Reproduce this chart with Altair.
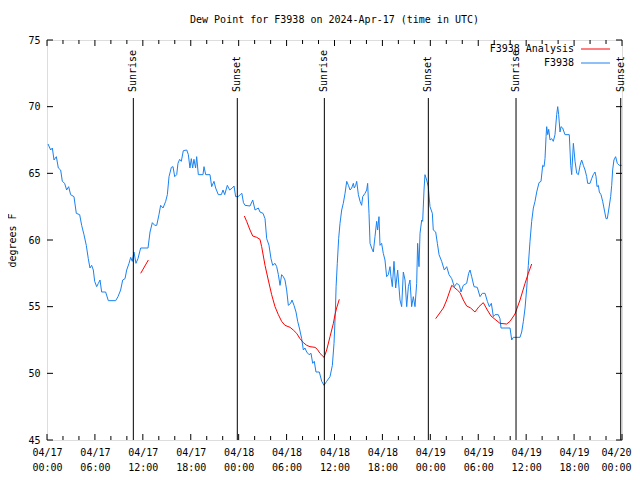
import altair as alt
import pandas as pd

# ---- data (hours since 2024-04-17 00:00 UTC, dew point in F) ----
obs_hours = [0.13, 0.46, 0.67, 0.88, 1.17, 1.42, 1.71, 1.92, 2.21, 2.46, 2.71, 2.96, 3.38, 3.67, 4.09, 4.34,
             4.63, 4.92, 5.17, 5.38, 5.59, 5.80, 5.97, 6.22, 6.43, 6.64, 6.84, 7.34, 7.68, 8.60, 8.89, 9.22,
             9.48, 9.77, 9.98, 10.27, 10.48, 10.68, 10.89, 11.14, 11.39, 11.73, 12.65, 12.90, 13.19, 13.49,
             13.74, 14.02, 14.23, 14.53, 14.86, 15.07, 15.28, 15.57, 15.78, 15.99, 16.24, 16.40, 16.61, 16.82,
             17.07, 17.50, 17.70, 17.90, 18.07, 18.24, 18.40, 18.61, 18.74, 18.95, 19.53, 19.66, 19.87, 20.41,
             20.62, 20.91, 21.12, 21.45, 21.83, 22.04, 22.25, 22.58, 22.87, 23.20, 23.42, 23.62, 23.92, 24.20,
             24.40, 24.60, 24.80, 25.42, 25.76, 26.05, 26.46, 26.67, 27.05, 27.30, 27.51, 27.80, 28.05, 28.26,
             28.55, 28.76, 28.97, 29.18, 29.38, 29.59, 29.80, 30.01, 30.22, 30.51, 30.68, 30.93, 31.18, 31.39,
             31.60, 31.89, 32.10, 32.30, 32.52, 32.81, 33.06, 33.27, 33.47, 33.68, 34.10, 34.40, 34.69, 35.02,
             35.44, 35.73, 35.94, 36.10, 36.20, 36.35, 36.52, 36.69, 36.90, 37.10, 37.32, 37.53, 37.74, 37.95,
             38.15, 38.36, 38.48, 38.65, 38.78, 38.99, 39.20, 39.40, 39.53, 39.82, 40.03, 40.15, 40.32, 40.45,
             40.65, 40.86, 41.07, 41.28, 41.40, 41.57, 41.70, 41.90, 42.11, 42.32, 42.53, 42.74, 42.95, 43.07,
             43.24, 43.45, 43.66, 43.91, 44.20, 44.41, 44.62, 44.83, 45.04, 45.25, 45.45, 45.66, 45.87, 46.08,
             46.29, 46.41, 46.58, 46.71, 46.92, 47.04, 47.21, 47.33, 47.54, 47.74, 47.96, 48.25, 48.37, 48.67,
             48.88, 49.09, 49.42, 49.75, 50.05, 50.34, 50.68, 51.00, 51.30, 51.63, 51.84, 52.13, 52.55, 52.80,
             52.97, 53.18, 53.47, 53.88, 54.22, 54.51, 54.85, 55.14, 55.39, 55.64, 55.89, 56.10, 56.51, 56.72,
             56.85, 57.98, 58.19, 58.39, 59.23, 59.44, 59.65, 59.86, 60.07, 60.27, 60.48, 60.69, 60.90, 61.11,
             61.32, 61.61, 61.86, 62.07, 62.24, 62.36, 62.49, 62.57, 62.70, 62.82, 62.99, 63.20, 63.40, 63.61,
             63.82, 63.95, 64.07, 64.24, 64.36, 64.57, 64.86, 65.40, 65.58, 65.70, 65.91, 66.12, 66.33, 66.54,
             66.75, 66.95, 67.16, 67.37, 67.58, 67.70, 68.00, 68.20, 68.40, 68.62, 68.75, 68.87, 69.04, 69.16,
             69.37, 69.58, 69.79, 70.00, 70.16, 70.37, 70.58, 70.71, 70.83, 70.99, 71.20, 71.41, 71.66, 71.96]
obs_values = [67.2, 66.75, 66.9, 66.0, 66.25, 65.4, 65.25, 64.4, 64.25, 63.75, 64.0, 63.4, 63.25, 62.0, 61.9, 61.1,
              60.4, 59.6, 58.6, 57.9, 58.1, 57.75, 56.9, 56.5, 56.75, 57.0, 56.1, 56.1, 55.45, 55.45, 55.75, 56.25,
              57.0, 57.1, 57.75, 58.25, 58.7, 58.4, 59.1, 58.25, 58.6, 59.4, 59.4, 60.6, 61.3, 61.1,
              61.1, 61.9, 62.6, 62.4, 62.9, 63.4, 64.75, 65.45, 65.5, 64.75, 64.9, 65.75, 66.05, 65.9,
              66.7, 66.75, 66.4, 65.4, 66.1, 65.4, 66.05, 65.4, 66.25, 64.9, 64.9, 65.5, 64.9, 64.9,
              64.0, 64.4, 63.9, 63.4, 63.4, 63.75, 63.4, 64.1, 63.75, 63.9, 64.05, 63.25, 63.25, 63.4,
              63.5, 62.8, 62.6, 62.55, 63.0, 62.25, 62.4, 62.1, 62.0, 61.6, 60.1, 59.6, 58.6, 58.1,
              58.25, 58.0, 57.4, 56.6, 57.4, 57.25, 57.0, 56.25, 55.1, 55.25, 55.5, 55.1, 54.6, 53.9,
              53.4, 52.6, 51.75, 51.9, 51.6, 51.4, 51.5, 50.75, 50.9, 50.1, 50.1, 49.4, 49.1, 49.4,
              49.75, 50.6, 52.25, 54.5, 56.5, 58.25, 60.1, 61.25, 62.25, 62.75, 63.5, 64.4, 64.1, 63.75,
              63.9, 64.25, 63.9, 64.1, 64.4, 63.4, 62.9, 62.6, 63.25, 63.5, 63.75, 64.25, 62.0, 59.75,
              59.4, 59.1, 60.25, 61.4, 60.75, 61.75, 59.6, 59.75, 59.0, 58.5, 57.25, 57.4, 58.0, 57.25,
              56.5, 58.4, 56.4, 57.75, 55.5, 55.0, 57.6, 57.0, 55.0, 56.5, 57.0, 55.0, 55.75, 55.0,
              56.75, 59.75, 58.0, 60.5, 61.5, 61.4, 63.75, 64.9, 64.5, 64.0, 62.5, 62.0, 60.75, 60.6,
              59.75, 58.9, 58.4, 57.75, 58.0, 57.4, 57.1, 56.5, 56.75, 56.6, 56.1, 56.6, 56.75, 57.5,
              57.75, 57.25, 56.5, 56.45, 55.75, 56.0, 56.0, 55.4, 55.0, 55.25, 54.25, 54.4, 54.4, 54.1,
              53.4, 53.4, 52.5, 52.7, 52.7, 53.1, 53.9, 54.9, 56.4, 58.1, 59.9, 61.4, 62.4, 62.9,
              63.6, 64.3, 64.4, 65.6, 65.5, 66.1, 67.75, 68.5, 67.9, 68.3, 67.5, 67.6, 67.4, 67.9,
              69.4, 70.0, 69.4, 68.1, 68.5, 68.4, 67.9, 67.9, 65.6, 64.9, 67.25, 65.9, 65.0, 64.9,
              65.6, 66.0, 65.6, 65.25, 64.75, 64.25, 64.25, 64.6, 64.9, 65.1, 64.75, 64.0, 64.1, 63.6,
              63.4, 62.9, 62.25, 61.6, 61.6, 62.4, 63.25, 64.1, 65.25, 66.0, 66.25, 65.75, 65.6, 65.6]

ana_seg = [1, 1] + [2] * 31 + [3] * 23
ana_hours = [11.73, 12.69,
             24.71, 25.0, 25.42, 25.76, 26.26, 26.67, 26.88, 27.3, 27.71, 28.13, 28.55, 28.97, 29.38, 29.8,
             30.43, 30.84, 31.26, 31.68, 32.1, 32.52, 32.93, 33.56, 33.85, 34.18, 34.69, 35.02, 35.44, 35.86,
             36.06, 36.27, 36.6,
             48.67, 49.63, 50.05, 50.68, 51.38, 51.72, 52.13, 52.55, 53.05, 53.59, 54.09, 54.63, 55.14, 55.6,
             56.1, 56.72, 57.56, 57.98, 58.6, 59.23, 59.86, 60.27, 60.69]
ana_values = [57.5, 58.5,
              61.8, 61.4, 60.75, 60.3, 60.2, 60.05, 59.5, 58.1, 57.0, 55.9, 55.0, 54.4, 53.9, 53.6,
              53.45, 53.25, 53.0, 52.6, 52.3, 52.1, 52.0, 51.95, 51.8, 51.5, 51.2, 51.75, 52.75, 53.75,
              54.4, 54.9, 55.55,
              54.1, 54.9, 55.5, 56.6, 56.25, 56.05, 55.5, 55.05, 54.9, 54.6, 55.0, 55.3, 54.75, 54.3,
              54.05, 53.75, 53.7, 53.9, 54.45, 55.5, 56.75, 57.5, 58.2]

sun_hours = [10.81, 23.83, 34.73, 47.75, 58.73, 71.84]
sun_labels = ["Sunrise", "Sunset", "Sunrise", "Sunset", "Sunrise", "Sunset"]

x_major = list(range(0, 73, 6))
x_minor = [h for h in range(0, 73, 2) if h % 6 != 0]
y_major = [45, 50, 55, 60, 65, 70, 75]

series_names = ["F3938 Analysis", "F3938"]
series_colors = ["#ff0000", "#1a82f0"]

FONT = "DejaVu Sans Mono"
W, H = 575, 400

obs = pd.DataFrame({"h": obs_hours, "v": obs_values})
ana = pd.DataFrame({"h": ana_hours, "v": ana_values, "seg": ana_seg})
sun = pd.DataFrame({"h": sun_hours, "label": sun_labels})
xmaj = pd.DataFrame({"h": x_major})
xmin = pd.DataFrame({"h": x_minor})
ymaj = pd.DataFrame({"v": y_major})

label_expr = ("['04/' + (17 + floor(datum.value / 24)), "
              "((datum.value % 24) < 10 ? '0' : '') + (datum.value % 24) + ':00']")

xscale = alt.Scale(domain=[0, 72], nice=False, zero=False)
yscale = alt.Scale(domain=[45, 75], nice=False, zero=False)

x_enc = alt.X("h:Q", scale=xscale,
              axis=alt.Axis(values=x_major, labelExpr=label_expr, ticks=False, domain=False, grid=False,
                            title=None, labelFont=FONT, labelFontSize=10, labelColor="black",
                            labelOffset=alt.ExprRef("datum.value == 72 ? -6 : 0"),
                            labelPadding=7, labelLineHeight=15, labelFlush=False, labelOverlap=False))
y_enc = alt.Y("v:Q", scale=yscale,
              axis=alt.Axis(values=y_major, ticks=False, domain=False, grid=False, title="degrees F",
                            titleFont=FONT, titleFontSize=10, titleFontWeight="normal", titleColor="black",
                            titlePadding=10, labelFont=FONT, labelFontSize=10, labelColor="black",
                            labelPadding=7, labelFlush=False, labelOverlap=False))

obs_line = alt.Chart(obs).mark_line(color=series_colors[1], strokeWidth=1).encode(x=x_enc, y=y_enc)
ana_line = alt.Chart(ana).mark_line(color=series_colors[0], strokeWidth=1).encode(
    x=alt.X("h:Q", scale=xscale), y=alt.Y("v:Q", scale=yscale), detail="seg:N")

sun_rule = alt.Chart(sun).mark_rule(color="black", strokeWidth=1).encode(
    x=alt.X("h:Q", scale=xscale), y=alt.value(58), y2=alt.value(H))
sun_text = alt.Chart(sun).mark_text(angle=270, align="left", baseline="middle", font=FONT, fontSize=10,
                                    color="black").encode(
    x=alt.X("h:Q", scale=xscale), y=alt.value(52), text="label:N")

# inside ticks (gnuplot style, mirrored)
xt_maj_b = alt.Chart(xmaj).mark_rule(color="black").encode(x=alt.X("h:Q", scale=xscale), y=alt.value(H), y2=alt.value(H - 6))
xt_maj_t = alt.Chart(xmaj).mark_rule(color="black").encode(x=alt.X("h:Q", scale=xscale), y=alt.value(0), y2=alt.value(6))
xt_min_b = alt.Chart(xmin).mark_rule(color="black").encode(x=alt.X("h:Q", scale=xscale), y=alt.value(H), y2=alt.value(H - 4))
xt_min_t = alt.Chart(xmin).mark_rule(color="black").encode(x=alt.X("h:Q", scale=xscale), y=alt.value(0), y2=alt.value(4))
yt_l = alt.Chart(ymaj).mark_rule(color="black").encode(y=alt.Y("v:Q", scale=yscale), x=alt.value(0), x2=alt.value(6))
yt_r = alt.Chart(ymaj).mark_rule(color="black").encode(y=alt.Y("v:Q", scale=yscale), x=alt.value(W), x2=alt.value(W - 6))

# legend (gnuplot style: label then sample line)
leg_layers = []
for i, (name, col) in enumerate(zip(series_names, series_colors)):
    ly = 9 + 14 * i
    leg_layers.append(alt.Chart(pd.DataFrame({"t": [name]})).mark_text(
        align="right", baseline="middle", font=FONT, fontSize=10, color="black").encode(
        text="t:N", x=alt.value(527), y=alt.value(ly)))
    leg_layers.append(alt.Chart(pd.DataFrame({"t": [name]})).mark_rule(color=col, strokeWidth=1).encode(
        x=alt.value(534), x2=alt.value(563), y=alt.value(ly)))

chart = alt.layer(
    obs_line, ana_line, sun_rule, sun_text,
    xt_maj_b, xt_maj_t, xt_min_b, xt_min_t, yt_l, yt_r,
    *leg_layers
).properties(
    width=W, height=H,
    title=alt.TitleParams("Dew Point for F3938 on 2024-Apr-17 (time in UTC)", font=FONT, fontSize=10,
                          fontWeight="normal", color="black", anchor="middle", offset=10),
    autosize=alt.AutoSizeParams(type="none"),
    padding={"left": 39, "top": 32, "right": 10, "bottom": 32},
).configure_view(stroke="black", strokeWidth=1).configure(background="white")

chart.save("out.html", embed_options={"renderer": "svg", "actions": False})
